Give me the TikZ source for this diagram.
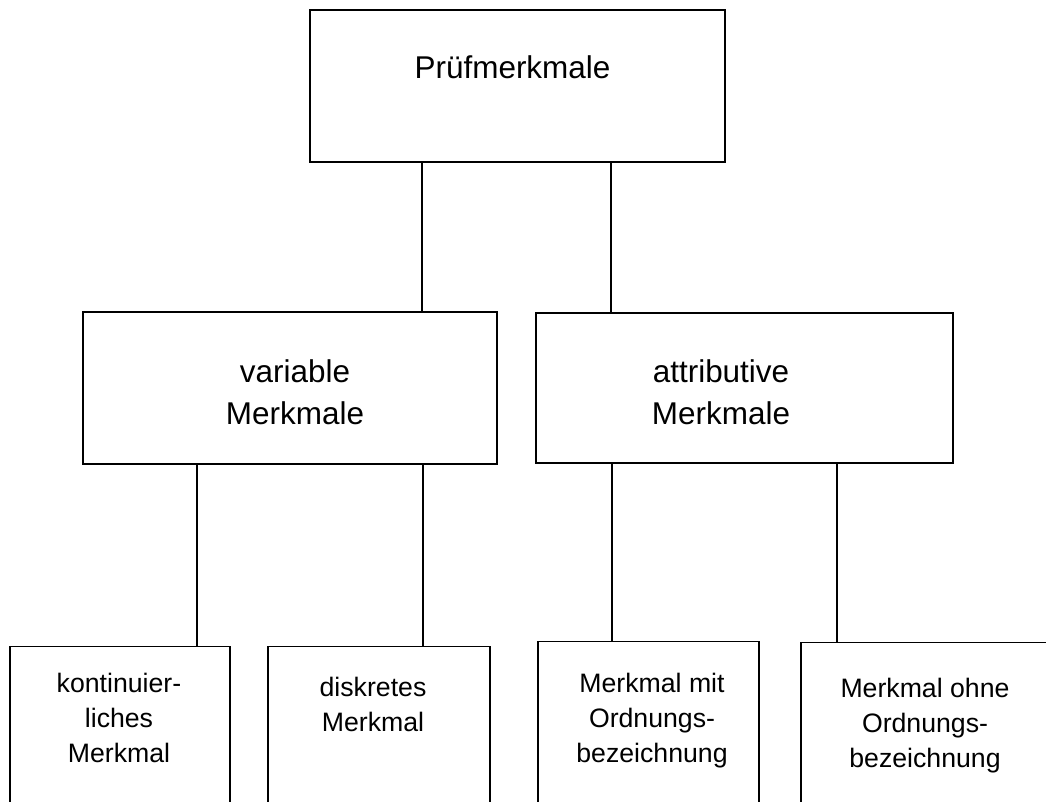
\documentclass[tikz,border=0pt]{standalone}
\usepackage{fontspec}
\setmainfont{Liberation Sans}
\usepackage{tikz}
\usetikzlibrary{positioning}

\begin{document}
\begin{tikzpicture}
        [x=0.75pt,y=-0.75pt,line width=1pt,
         box/.style={rectangle,draw=black,line width=1pt,inner sep=0pt},
         openbox/.style={box,anchor=north,minimum height=150pt},
         lbl/.style={align=center,inner sep=0pt,anchor=base},
         bigtxt/.style={lbl,font=\fontsize{23.6}{28}\selectfont},
         midtxt/.style={lbl,font=\fontsize{23.6}{31.5}\selectfont},
         smalltxt/.style={lbl,font=\fontsize{20}{26}\selectfont}]
        \clip (0,0) rectangle (1046,801);

        % boxes
        \node [box,name=pm,minimum width=311.25pt,minimum height=114pt] at (517.5,86) {};
        \node [box,name=var,minimum width=310.5pt,minimum height=114pt] at (290,388) {};
        \node [box,name=attr,minimum width=312.75pt,minimum height=112.5pt] at (744.5,388) {};
        \node [openbox,name=kont,minimum width=165pt] at (120,646) {};
        \node [openbox,name=disk,minimum width=166.5pt] at (379,646) {};
        \node [openbox,name=mit,minimum width=165.75pt] at (648.5,641) {};
        \node [openbox,name=ohne,minimum width=209.25pt] at (940.5,642) {};

        % texts (base = last line)
        \node [bigtxt,name=pmtxt] at (512.5,78) {Prüfmerkmale};
        \node [midtxt,name=vartxt] at (295,424) {variable\\Merkmale};
        \node [midtxt,name=attrtxt] at (721,424) {attributive\\Merkmale};
        \node [smalltxt,name=konttxt] at (119,762) {kontinuier-\\liches\\Merkmal};
        \node [smalltxt,name=disktxt] at (373,731) {diskretes\\Merkmal};
        \node [smalltxt,name=mittxt] at (652,762) {Merkmal mit\\Ordnungs-\\bezeichnung};
        \node [smalltxt,name=ohnetxt] at (925,767) {Merkmal ohne\\Ordnungs-\\bezeichnung};

        % connectors
        \coordinate (c1) at (422,0);
        \coordinate (c2) at (611,0);
        \coordinate (c3) at (197,0);
        \coordinate (c4) at (423,0);
        \coordinate (c5) at (612,0);
        \coordinate (c6) at (837,0);

        \path[-] (pm.south -| c1) edge (var.north -| c1)
              (pm.south -| c2) edge (attr.north -| c2)
              (var.south -| c3) edge (kont.north -| c3)
              (var.south -| c4) edge (disk.north -| c4)
              (attr.south -| c5) edge (mit.north -| c5)
              (attr.south -| c6) edge (ohne.north -| c6);
    \end{tikzpicture}
\end{document}
